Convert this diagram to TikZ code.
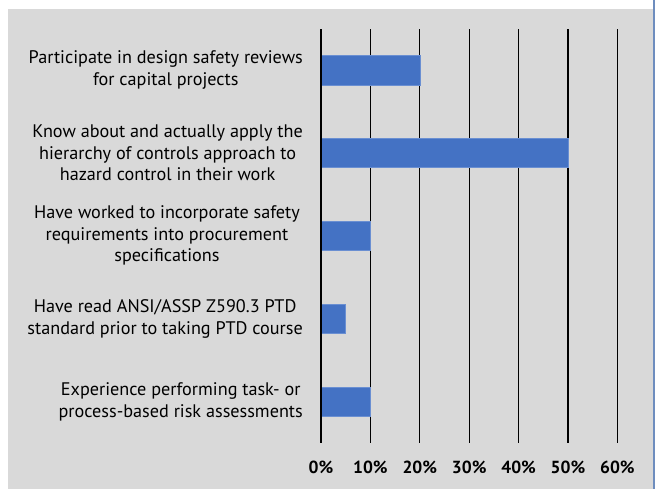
\documentclass[tikz,border=0pt]{standalone}
\usepackage{fontspec}
\setmainfont{PT Sans}
\definecolor{bg}{HTML}{D9D9D9}
\definecolor{barblue}{HTML}{4472C4}
\definecolor{baredge}{HTML}{6A8FD2}
\definecolor{frameblue}{HTML}{6E8DBE}
\begin{document}
\begin{tikzpicture}[x=1pt,y=-1pt,
  catlabel/.style={anchor=east,align=center,inner sep=0pt,font=\fontsize{18.2}{21.5}\selectfont},
  ticklabel/.style={anchor=center,inner sep=0pt,font=\fontsize{17.5}{18}\selectfont\bfseries},
  gridline/.style={black,line width=1.3pt},
  hbar/.style={fill=barblue,draw=baredge,line width=0.5pt}]
\useasboundingbox (0,0) rectangle (655,489);
\fill[white] (0,0) rectangle (655,489);
\fill[bg] (8,9) rectangle (653,489);
\fill[frameblue] (653.3,0) rectangle (655,489);
% gridlines
\foreach \i in {0,...,6}{
  \draw[gridline] ({321+49.4*\i},29.3) -- ({321+49.4*\i},442.7);
}
% bars
\def\bh{14.65}
\draw[hbar] (321.7,{70.2-\bh}) rectangle ({321+49.4*2},{70.2+\bh});
\draw[hbar] (321.7,{153-\bh}) rectangle ({321+49.4*5},{153+\bh});
\draw[hbar] (321.7,{235.7-\bh}) rectangle ({321+49.4*1},{235.7+\bh});
\draw[hbar] (321.7,{318.8-\bh}) rectangle ({321+49.4*0.5},{318.8+\bh});
\draw[hbar] (321.7,{402-\bh}) rectangle ({321+49.4*1},{402+\bh});
\draw[gridline] (321,29.3) -- (321,442.7);
% category labels
\node[catlabel] (c1) at (303,70.2) {Participate in design safety reviews\\for capital projects};
\node[catlabel] (c2) at (303,153) {Know about and actually apply the\\hierarchy of controls approach to\\hazard control in their work};
\node[catlabel] (c3) at (300,235.7) {Have worked to incorporate safety\\requirements into procurement\\specifications};
\node[catlabel] (c4) at (303,318.8) {Have read ANSI/ASSP Z590.3 PTD\\standard prior to taking PTD course};
\node[catlabel] (c5) at (303,402) {Experience performing task- or\\process-based risk assessments};
% tick labels
\foreach \i in {0,...,6}{
  \pgfmathtruncatemacro{\v}{10*\i}
  \node[ticklabel] (t\i) at ({321+49.4*\i},467) {\v\%};
}
\end{tikzpicture}
\end{document}
